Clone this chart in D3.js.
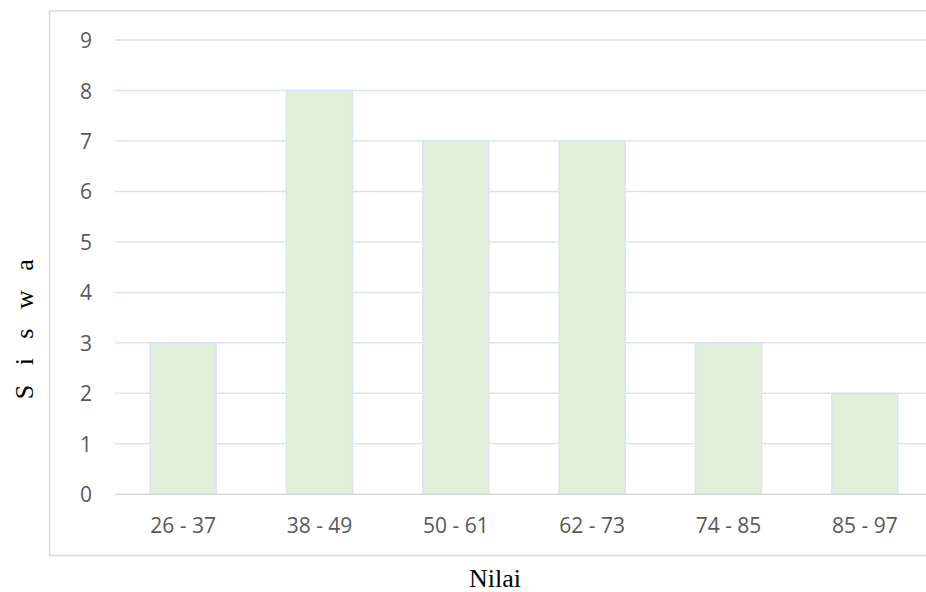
<!DOCTYPE html>
<html>
<head>
<meta charset="utf-8">
<script src="https://cdn.jsdelivr.net/npm/d3@7/dist/d3.min.js"></script>
<style>
  html, body { margin: 0; padding: 0; background: #ffffff; }
  svg { display: block; }
</style>
</head>
<body>
<svg id="chart" width="926" height="592"></svg>
<script>
// Score ranges and number of students in each
const categories = ["26 - 37", "38 - 49", "50 - 61", "62 - 73", "74 - 85", "85 - 97"];
const values = [3, 8, 7, 7, 3, 2];
const yTicks = [0, 1, 2, 3, 4, 5, 6, 7, 8, 9];
const xTitle = "Nilai";
const yTitle = "S i s w a";

const svg = d3.select("#chart");

// Plot area (runs slightly past the right edge of the page)
const plot = { left: 115, right: 933, top: 40, bottom: 494.3 };

const x = d3.scaleBand()
  .domain(categories)
  .range([plot.left, plot.right])
  .paddingInner(0.516)
  .paddingOuter(0.258);

const y = d3.scaleLinear()
  .domain([0, 9])
  .range([plot.bottom, plot.top]);

// Chart frame
svg.append("rect")
  .attr("x", 49.5).attr("y", 11)
  .attr("width", 940).attr("height", 544.5)
  .attr("fill", "#ffffff")
  .attr("stroke", "#d9d9d9")
  .attr("stroke-width", 1.5);

// Horizontal gridlines
svg.append("g")
  .selectAll("line")
  .data(yTicks.filter(d => d > 0))
  .join("line")
  .attr("x1", plot.left).attr("x2", plot.right)
  .attr("y1", d => y(d)).attr("y2", d => y(d))
  .attr("stroke", "#dae3f3")
  .attr("stroke-width", 1.5);

// Bars
svg.append("g")
  .selectAll("rect")
  .data(values)
  .join("rect")
  .attr("x", (d, i) => x(categories[i]))
  .attr("y", d => y(d))
  .attr("width", x.bandwidth())
  .attr("height", d => y(0) - y(d))
  .attr("fill", "#e2efda")
  .attr("stroke", "#dae3f3")
  .attr("stroke-width", 1.5);

// Category axis line
svg.append("line")
  .attr("x1", plot.left).attr("x2", plot.right)
  .attr("y1", y(0)).attr("y2", y(0))
  .attr("stroke", "#d9d9d9")
  .attr("stroke-width", 1.5);

// Value axis labels
const yAxis = d3.axisLeft(y).tickValues(yTicks).tickSize(0).tickPadding(0);
const gy = svg.append("g")
  .attr("transform", `translate(92,0)`)
  .call(yAxis);
gy.select(".domain").remove();
gy.selectAll("text")
  .attr("font-family", "'Open Sans', sans-serif")
  .attr("font-size", 21)
  .attr("fill", "#595959")
  .attr("dy", "0.36em");

// Category axis labels
const xAxis = d3.axisBottom(x).tickSize(0).tickPadding(0);
const gx = svg.append("g")
  .attr("transform", `translate(0,${plot.bottom})`)
  .call(xAxis);
gx.select(".domain").remove();
gx.selectAll("text")
  .attr("font-family", "'Open Sans', sans-serif")
  .attr("font-size", 21)
  .attr("fill", "#595959")
  .attr("dy", 0)
  .attr("y", 38.5);

// Axis titles
svg.append("text")
  .attr("x", 495).attr("y", 587)
  .attr("text-anchor", "middle")
  .attr("font-family", "'Liberation Serif', 'Times New Roman', serif")
  .attr("font-size", 26)
  .attr("fill", "#000000")
  .text(xTitle);

svg.append("text")
  .attr("transform", "translate(33,326) rotate(-90)")
  .attr("text-anchor", "middle")
  .attr("font-family", "'Liberation Serif', 'Times New Roman', serif")
  .attr("font-size", 26)
  .attr("letter-spacing", 6.5)
  .attr("fill", "#000000")
  .text(yTitle);
</script>
</body>
</html>
